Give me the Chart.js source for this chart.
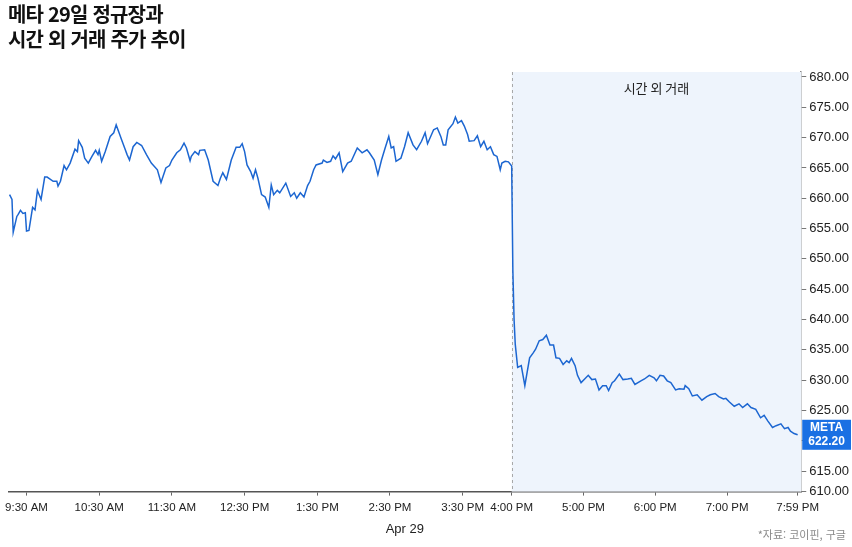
<!DOCTYPE html>
<html lang="ko">
<head>
<meta charset="UTF-8">
<title>메타 29일 정규장과 시간 외 거래 주가 추이</title>
<script src="https://cdn.jsdelivr.net/npm/chart.js@4.4.1/dist/chart.umd.min.js"></script>
<style>
  body { margin: 0; background: #fff; width: 852px; height: 547px; overflow: hidden; position: relative; }
  .title { position: absolute; left: 8px; top: 1px; font-family: 'Noto Sans CJK KR', sans-serif; font-weight: 700; font-size: 20px; line-height: 25px; color: #111; letter-spacing: -0.8px; z-index: 2; }
  .source { position: absolute; right: 6px; top: 526px; font-family: 'Noto Sans CJK KR', sans-serif; font-size: 11px; color: #8a8a8a; z-index: 2; }
  #chart { position: absolute; left: 0; top: 0; }
</style>
</head>
<body>
<div class="title">메타 29일 정규장과<br>시간 외 거래 주가 추이</div>
<canvas id="chart" width="852" height="547"></canvas>
<div class="source">*자료: 코이핀, 구글</div>

<script>
  // times are minutes after midnight (New York), prices in USD
  const regularTimes = [556,558,559,562,563,565,567,569,570,572,575,577,579,582,585,587,592,595,596,598,
    601,603,606,610,612,613,616,618,621,624,627,629,630,632,635,639,642,644,646,648,
    651,653,655,658,661,665,669,673,678,681,685,688,690,694,697,700,702,705,706,709,
    712,713,717,720,724,728,730,732,735,739,743,746,748,750,752,755,757,759,761,764,
    767,770,772,774,777,779,784,788,791,793,796,799,802,804,807,809,814,815,818,821,
    823,825,828,831,835,838,843,847,851,853,857,860,863,866,869,871,873,875,879,882,
    885,889,892,896,899,901,906,909,912,914,916,918,922,924,926,929,931,933,934,937,
    939,941,943,945,947,949,951,953,954,956,958,960];
  const regularPrices = [660.6,659.8,654.4,657.0,657.3,658.0,657.5,657.6,654.6,654.7,658.5,658.1,661.3,659.8,663.5,663.5,662.8,662.8,662.0,662.8,
    665.4,664.7,665.8,668.1,667.7,669.5,668.4,666.6,665.8,666.9,667.9,667.2,667.9,666.1,667.7,670.2,670.8,672.1,671.0,669.9,
    668.3,667.2,666.3,668.5,669.2,668.7,667.2,665.8,664.7,662.6,665.0,665.4,666.3,667.5,668.0,669.1,668.3,666.2,666.9,667.7,
    667.2,667.9,668.0,666.3,662.8,662.1,663.3,664.2,663.1,666.3,668.4,668.4,669.0,667.7,665.5,664.4,663.3,664.7,663.3,660.6,
    660.2,658.5,662.2,660.6,661.3,660.9,662.5,660.3,660.9,660.0,660.9,660.2,662.1,662.8,664.7,665.5,665.8,666.3,665.9,666.1,
    667.0,666.5,667.5,664.4,665.8,666.1,668.3,667.5,668.0,667.5,666.3,663.9,666.3,668.3,670.2,668.3,668.5,666.1,666.6,668.5,
    670.8,668.8,668.0,669.4,670.8,669.0,671.3,671.6,670.2,668.8,668.8,671.3,672.3,673.4,672.4,672.8,671.9,670.5,669.4,669.5,
    670.3,668.5,669.4,668.0,668.5,667.2,666.9,664.7,665.8,666.1,666.0,665.3];

  const afterTimes = [961,962,963,965,968,971,975,978,980,983,986,989,992,995,997,1000,1003,1006,1008,1010,
    1013,1015,1018,1021,1024,1027,1030,1033,1036,1039,1041,1044,1046,1050,1053,1057,1060,1063,1068,1071,
    1075,1079,1081,1084,1087,1090,1093,1097,1100,1104,1105,1108,1111,1115,1119,1123,1126,1130,1133,1137,
    1139,1142,1146,1150,1153,1157,1160,1164,1168,1171,1174,1178,1181,1185,1188,1191,1193,1196,1199];
  const afterPrices = [648,640,635.9,632.1,632.4,629.1,633.7,634.5,635.1,636.5,636.7,637.4,635.8,635.8,633.7,633.6,632.6,633.2,632.9,633.6,
    632.4,630.8,629.6,630.2,630.8,630.1,630.2,628.4,629.1,629.1,628.3,629.6,629.9,631.0,630.1,630.2,630.3,629.3,629.9,630.2,
    630.8,630.4,629.9,630.8,630.7,629.9,629.6,628.4,628.6,628.5,629.1,628.6,627.4,627.6,626.7,627.3,627.6,627.8,627.3,626.9,
    627.0,626.4,625.7,626.1,625.5,626.1,625.5,625.2,623.8,624.2,623.3,622.2,622.5,622.8,622.0,622.2,621.6,621.2,621.0];

  const xTickValues = [570, 630, 690, 750, 810, 870, 930, 960, 1020, 1080, 1140, 1199];
  const xTickLabels = ['9:30 AM','10:30 AM','11:30 AM','12:30 PM','1:30 PM','2:30 PM','3:30 PM','4:00 PM','5:00 PM','6:00 PM','7:00 PM','7:59 PM'];
  const yTickValues = [610, 615, 620, 625, 630, 635, 640, 645, 650, 655, 660, 665, 670, 675, 680];
  const afterHoursStart = 960;
  const lastLabel = ['META', '622.20'];

  // the source chart does not run time at one rate: the half hour before the close
  // is drawn wider than the rest of the session. [minute, share of the axis width]
  const axisKnots = [[555, 0], [930, 0.573], [960, 0.6348], [1202, 1]];

  class SessionScale extends Chart.LinearScale {
    getPixelForValue(value) {
      let i = 1;
      while (i < axisKnots.length - 1 && value > axisKnots[i][0]) i++;
      const [t0, f0] = axisKnots[i - 1];
      const [t1, f1] = axisKnots[i];
      return this.getPixelForDecimal(f0 + (value - t0) / (t1 - t0) * (f1 - f0));
    }
    getValueForPixel(pixel) {
      const f = this.getDecimalForPixel(pixel);
      let i = 1;
      while (i < axisKnots.length - 1 && f > axisKnots[i][1]) i++;
      const [t0, f0] = axisKnots[i - 1];
      const [t1, f1] = axisKnots[i];
      return t0 + (f - f0) / (f1 - f0) * (t1 - t0);
    }
  }
  SessionScale.id = 'session';
  SessionScale.defaults = Chart.LinearScale.defaults;
  Chart.register(SessionScale);

  const allPrices = regularPrices.concat(afterPrices);
  const points = regularTimes.concat(afterTimes).map((t, i) => ({ x: t, y: allPrices[i] }));

  const afterHoursPlugin = {
    id: 'afterHours',
    beforeDatasetsDraw(chart) {
      const { ctx, chartArea: a, scales: { x } } = chart;
      const x0 = x.getPixelForValue(afterHoursStart);
      ctx.save();
      ctx.fillStyle = '#eef4fc';
      ctx.fillRect(x0, a.top, a.right - x0, a.bottom - a.top);
      ctx.strokeStyle = '#a8a8a8';
      ctx.lineWidth = 1;
      ctx.setLineDash([3, 3]);
      ctx.beginPath();
      ctx.moveTo(Math.round(x0) + 0.5, a.top);
      ctx.lineTo(Math.round(x0) + 0.5, a.bottom);
      ctx.stroke();
      ctx.setLineDash([]);
      ctx.fillStyle = '#222';
      ctx.font = '13px "Noto Sans CJK KR"';
      ctx.textAlign = 'center';
      ctx.textBaseline = 'middle';
      ctx.fillText('시간 외 거래', (x0 + a.right) / 2, a.top + 16);
      ctx.restore();
    }
  };

  const badgePlugin = {
    id: 'badge',
    afterDraw(chart) {
      const { ctx, chartArea: a, scales: { y } } = chart;
      const yPix = y.getPixelForValue(afterPrices[afterPrices.length - 1]);
      const left = a.right + 1;
      const right = chart.width - 1;
      ctx.save();
      ctx.fillStyle = '#1a70e3';
      ctx.fillRect(left, yPix - 15, right - left, 30);
      ctx.fillStyle = '#fff';
      ctx.font = 'bold 12px "Liberation Sans", Arial, sans-serif';
      ctx.textAlign = 'center';
      ctx.textBaseline = 'middle';
      ctx.fillText(lastLabel[0], (left + right) / 2, yPix - 7);
      ctx.fillText(lastLabel[1], (left + right) / 2, yPix + 7);
      ctx.restore();
    }
  };

  new Chart(document.getElementById('chart'), {
    type: 'line',
    data: {
      datasets: [{
        data: points,
        borderColor: '#1c66d1',
        borderWidth: 1.5,
        pointRadius: 0,
        tension: 0,
        fill: false
      }]
    },
    options: {
      responsive: false,
      animation: false,
      layout: { padding: { left: 5, top: 72, right: 0, bottom: 8 } },
      plugins: { legend: { display: false }, tooltip: { enabled: false } },
      scales: {
        x: {
          type: 'session',
          min: 555,
          max: 1202,
          afterBuildTicks(scale) { scale.ticks = xTickValues.map(v => ({ value: v })); },
          ticks: {
            autoSkip: false,
            maxRotation: 0,
            padding: 5,
            color: '#222',
            font: { family: '"Liberation Sans", Arial, sans-serif', size: 11.5 },
            callback: (v) => xTickLabels[xTickValues.indexOf(v)]
          },
          grid: { drawOnChartArea: false, tickLength: 4, color: '#666' },
          border: { color: '#555', width: 1.5 },
          title: {
            display: true,
            text: 'Apr 29',
            color: '#222',
            font: { family: '"Liberation Sans", Arial, sans-serif', size: 13 },
            padding: { top: 2, bottom: 2 }
          }
        },
        y: {
          position: 'right',
          min: 611.63,
          max: 680.82,
          afterBuildTicks(scale) { scale.ticks = yTickValues.map(v => ({ value: Math.max(v, scale.min) })); },
          ticks: {
            padding: 3,
            color: '#222',
            font: { family: '"Liberation Sans", Arial, sans-serif', size: 13 },
            callback: (v, i) => yTickValues[i].toFixed(2)
          },
          grid: { drawOnChartArea: false, tickLength: 5, color: '#777' },
          border: { color: '#888', width: 1.5 }
        }
      }
    },
    plugins: [afterHoursPlugin, badgePlugin]
  });
</script>
</body>
</html>
